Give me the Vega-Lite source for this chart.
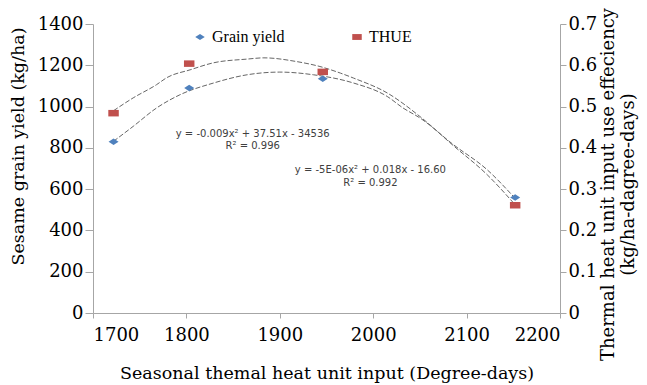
{
  "$schema": "https://vega.github.io/schema/vega-lite/v6.json",
  "width": 467,
  "height": 289,
  "autosize": "none",
  "padding": {"left": 93, "top": 24, "right": 87, "bottom": 72},
  "background": "white",
  "config": {
    "view": {"stroke": null},
    "axis": {
      "grid": false,
      "domainColor": "#a6a6a6",
      "tickColor": "#a6a6a6",
      "labelFont": "DejaVu Serif",
      "labelFontSize": 18,
      "labelColor": "black",
      "titleFont": "DejaVu Serif",
      "titleFontSize": 17.5,
      "titleFontWeight": "normal",
      "titleColor": "black"
    }
  },
  "datasets": {
    "grain": [
      {"x": 1722, "y": 830, "series": "Grain yield"},
      {"x": 1803, "y": 1090, "series": "Grain yield"},
      {"x": 1946, "y": 1135, "series": "Grain yield"},
      {"x": 2152, "y": 560, "series": "Grain yield"}
    ],
    "thue": [
      {"x": 1722, "y": 0.484, "series": "THUE"},
      {"x": 1803, "y": 0.604, "series": "THUE"},
      {"x": 1946, "y": 0.584, "series": "THUE"},
      {"x": 2152, "y": 0.261, "series": "THUE"}
    ],
    "grainFit": [
      {"x": 1722, "y": 832}, {"x": 1743, "y": 904}, {"x": 1768, "y": 993},
      {"x": 1793, "y": 1057}, {"x": 1829, "y": 1114}, {"x": 1865, "y": 1154},
      {"x": 1900, "y": 1167}, {"x": 1936, "y": 1154}, {"x": 1979, "y": 1114},
      {"x": 2015, "y": 1049}, {"x": 2032, "y": 993}, {"x": 2050, "y": 945},
      {"x": 2086, "y": 815}, {"x": 2122, "y": 694}, {"x": 2150, "y": 565}
    ],
    "thueFit": [
      {"x": 1722, "y": 0.49}, {"x": 1743, "y": 0.521}, {"x": 1768, "y": 0.553},
      {"x": 1779, "y": 0.57}, {"x": 1804, "y": 0.589}, {"x": 1829, "y": 0.606},
      {"x": 1865, "y": 0.615}, {"x": 1883, "y": 0.618}, {"x": 1918, "y": 0.609},
      {"x": 1943, "y": 0.597}, {"x": 1965, "y": 0.581}, {"x": 1979, "y": 0.569},
      {"x": 2015, "y": 0.533}, {"x": 2050, "y": 0.476}, {"x": 2086, "y": 0.405},
      {"x": 2122, "y": 0.335}, {"x": 2152, "y": 0.262}
    ],
    "eqs": [
      {"x": 1871, "y": 869, "label": "y = -0.009x² + 37.51x - 34536"},
      {"x": 1871, "y": 810, "label": "R² = 0.996"},
      {"x": 1997, "y": 691, "label": "y = -5E-06x² + 0.018x - 16.60"},
      {"x": 1997, "y": 632, "label": "R² = 0.992"}
    ]
  },
  "encoding": {
    "x": {
      "field": "x",
      "type": "quantitative",
      "scale": {"domain": [1700, 2200], "nice": false, "zero": false},
      "axis": {
        "values": [1700, 1800, 1900, 2000, 2100, 2200],
        "format": "d",
        "title": "Seasonal themal heat unit input (Degree-days)",
        "tickSize": 5,
        "labelPadding": 8,
        "titlePadding": 20
      }
    }
  },
  "layer": [
    {
      "encoding": {
        "y": {
          "field": "y",
          "type": "quantitative",
          "scale": {"domain": [0, 1400], "nice": false},
          "axis": {
            "orient": "left",
            "values": [0, 200, 400, 600, 800, 1000, 1200, 1400],
            "format": "d",
            "title": "Sesame grain yield (kg/ha)",
            "tickSize": 8,
            "labelPadding": 2,
            "titleX": -84,
            "titleY": 122,
            "titleBaseline": "top"
          }
        }
      },
      "layer": [
        {
          "data": {"name": "grainFit"},
          "mark": {"type": "line", "interpolate": "monotone", "color": "#666666", "strokeWidth": 1, "strokeDash": [5, 2]}
        },
        {
          "data": {"name": "grain"},
          "mark": {"type": "point", "filled": true, "size": 100, "opacity": 1},
          "encoding": {
            "color": {
              "field": "series",
              "type": "nominal",
              "scale": {"domain": ["Grain yield", "THUE"], "range": ["#4F81BD", "#C0504D"]},
              "legend": {"orient": "none", "legendX": 99, "legendY": 5, "direction": "horizontal", "title": null, "labelFont": "Liberation Serif", "labelFontSize": 16, "labelColor": "black", "columnPadding": 64, "symbolSize": 90, "labelOffset": 4}
            },
            "shape": {
              "field": "series",
              "type": "nominal",
              "scale": {"domain": ["Grain yield", "THUE"], "range": ["M-1,0L0,-0.65L1,0L0,0.65Z", "M-1,-0.62H1V0.62H-1Z"]},
              "legend": {"orient": "none", "legendX": 99, "legendY": 5, "direction": "horizontal", "title": null, "labelFont": "Liberation Serif", "labelFontSize": 16, "labelColor": "black", "columnPadding": 64, "symbolSize": 90, "labelOffset": 4}
            }
          }
        },
        {
          "data": {"name": "eqs"},
          "mark": {"type": "text", "font": "DejaVu Sans", "fontSize": 10, "color": "#404040", "align": "center", "baseline": "middle"},
          "encoding": {"text": {"field": "label", "type": "nominal"}}
        }
      ]
    },
    {
      "encoding": {
        "y": {
          "field": "y",
          "type": "quantitative",
          "scale": {"domain": [0, 0.7], "nice": false},
          "axis": {
            "orient": "right",
            "values": [0, 0.1, 0.2, 0.3, 0.4, 0.5, 0.6, 0.7],
            "format": ".1~f",
            "title": ["Thermal heat unit input use effeciency", "(kg/ha-dagree-days)"],
            "titleAngle": -90,
            "titleFontSize": 18,
            "tickSize": 6,
            "labelPadding": 2,
            "titleX": 39,
            "titleY": 160,
            "titleBaseline": "top",
            "titleLineHeight": 20
          }
        }
      },
      "layer": [
        {
          "data": {"name": "thueFit"},
          "mark": {"type": "line", "interpolate": "monotone", "color": "#666666", "strokeWidth": 1, "strokeDash": [5, 2]}
        },
        {
          "data": {"name": "thue"},
          "mark": {"type": "point", "filled": true, "size": 110, "opacity": 1},
          "encoding": {
            "color": {"field": "series", "type": "nominal"},
            "shape": {"field": "series", "type": "nominal"}
          }
        }
      ]
    }
  ],
  "resolve": {"scale": {"y": "independent"}}
}
